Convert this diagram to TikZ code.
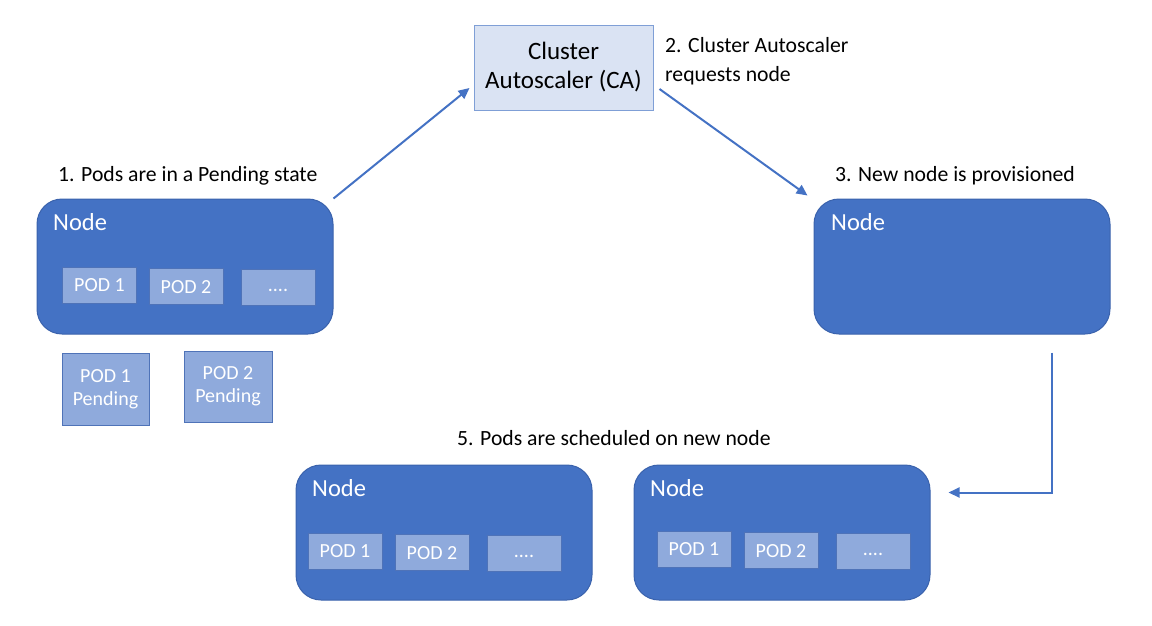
\documentclass[tikz,border=0pt]{standalone}
\usepackage{fontspec}
\setmainfont{Carlito}
\usetikzlibrary{arrows.meta}
\definecolor{nodeblue}{HTML}{4472C4}
\definecolor{nodeborder}{HTML}{3A62AC}
\definecolor{podblue}{HTML}{8FAADC}
\definecolor{podborder}{HTML}{4F73B8}
\definecolor{cafill}{HTML}{DAE3F3}
\definecolor{caborder}{HTML}{7F9FD6}
\begin{document}
\begin{tikzpicture}[x=1pt,y=-1pt,
  knode/.style={draw=nodeborder, fill=nodeblue, rounded corners=25pt, line width=1pt, minimum width=296pt, minimum height=135pt, inner sep=0pt},
  nodetitle/.style={anchor=west, text=white, font=\fontsize{24.5}{28}\selectfont, inner sep=0pt},
  podbox/.style={draw=podborder, fill=podblue, line width=1pt, minimum width=74pt, minimum height=36pt, text=white, font=\fontsize{20}{23}\selectfont, inner sep=0pt, align=center},
  podone/.style={podbox, text height=14pt, text depth=1pt},
  poddots/.style={podbox, text height=13pt, text depth=4pt},
  steplabel/.style={anchor=west, font=\fontsize{21.7}{29}\selectfont, inner sep=0pt, align=left},
  conn/.style={draw=nodeblue, line width=2pt, -{Triangle[length=11pt,width=10pt]}}
]
\useasboundingbox (0,0) rectangle (1152,625);

% Cluster autoscaler
\node[draw=caborder, fill=cafill, line width=1pt, minimum width=179pt, minimum height=85pt, inner sep=0pt, align=center, font=\fontsize{25}{29}\selectfont] (ca) at (563.5,67.5) {Cluster\\Autoscaler (CA)};
\node[steplabel] (l2) at (665,61.5) {2. Cluster Autoscaler\\requests node};

% Left node
\node[steplabel] (l1) at (58,176) {1. Pods are in a Pending state};
\node[knode] (n1) at (185,266.5) {};
\node[nodetitle] (n1t) at (53,222) {Node};
\node[podone] (n1p1) at (99.5,285) {POD 1};
\node[podone] (n1p2) at (186,286.5) {POD 2};
\node[poddots] (n1p3) at (278,287) {....};
\node[podbox, minimum width=87pt, minimum height=72pt] (pp1) at (105.5,389) {POD 1\\Pending};
\node[podbox, minimum width=88pt, minimum height=71pt] (pp2) at (228,386.5) {POD 2\\Pending};

% Right node
\node[steplabel] (l3) at (835,176) {3. New node is provisioned};
\node[knode] (n2) at (962,266.5) {};
\node[nodetitle] (n2t) at (831,222) {Node};

% Bottom nodes
\node[steplabel] (l5) at (457,438) {5. Pods are scheduled on new node};
\node[knode] (n3) at (444,532.5) {};
\node[nodetitle] (n3t) at (312,488) {Node};
\node[podone] (n3p1) at (345,551) {POD 1};
\node[podone] (n3p2) at (432,552.5) {POD 2};
\node[poddots] (n3p3) at (524,553) {....};

\node[knode] (n4) at (782,532.5) {};
\node[nodetitle] (n4t) at (650,488) {Node};
\node[podone] (n4p1) at (694,549) {POD 1};
\node[podone] (n4p2) at (781,550.5) {POD 2};
\node[poddots] (n4p3) at (873,551) {....};

% Connectors
\draw[conn] (n1.north east) -- ([xshift=-4pt,yshift=-20.5pt]ca.west);
\draw[conn] ([xshift=6pt,yshift=-21.5pt]ca.east) -- ([xshift=-6pt,yshift=3pt]n2.north west);
\draw[conn] ([xshift=90pt,yshift=-18pt]n2.south) |- ([xshift=18pt,yshift=40pt]n4.east);
\end{tikzpicture}
\end{document}
